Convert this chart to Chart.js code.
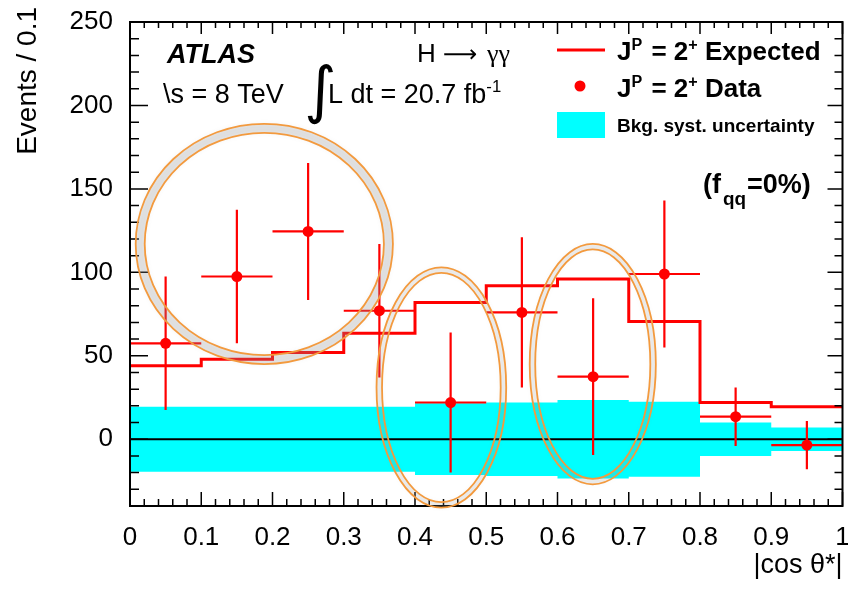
<!DOCTYPE html>
<html><head><meta charset="utf-8">
<script src="https://cdn.jsdelivr.net/npm/chart.js@4.4.1/dist/chart.umd.min.js"></script>
<style>html,body{margin:0;padding:0;background:#fff;}#wrap{width:848px;height:590px;}</style>
</head><body><div id="wrap"><canvas id="c" width="848" height="590"></canvas></div>
<script>
// ---- data ----
const binEdges = [0, 0.1, 0.2, 0.3, 0.4, 0.5, 0.6, 0.7, 0.8, 0.9, 1.0];
const binCenters = [0.05, 0.15, 0.25, 0.35, 0.45, 0.55, 0.65, 0.75, 0.85, 0.95];
const expected = [44, 48, 52, 63.5, 82, 92, 96, 70.5, 22, 19.5];
const observed = [57.5, 97.5, 124.5, 77, 22, 76, 37.5, 99, 13.5, -3.5];
const observedErr = [40, 40, 41, 40, 42, 45, 47, 44, 17.5, 14.5];
const bkgSyst = [19.5, 19.5, 19.5, 19.5, 21.5, 22, 23.5, 22.5, 10, 7];
const xTickValues = [0, 0.1, 0.2, 0.3, 0.4, 0.5, 0.6, 0.7, 0.8, 0.9, 1];
const yTickValues = [0, 50, 100, 150, 200, 250];
// highlighted regions (orange rings), in data units
const highlightX = [[0.008, 0.369], [0.346, 0.528], [0.561, 0.738]];
const highlightY = [[45, 189], [-41, 103], [-27, 117]];

const RED = '#ff0000', CYAN = '#00ffff';
const SANS = '"Liberation Sans", Arial, Helvetica, sans-serif';
const SERIF = '"Liberation Serif", "DejaVu Serif", serif';

function stepPoints(vals, sign) {
  return binEdges.map((x, i) => ({x: x, y: sign * vals[Math.min(i, vals.length - 1)]}));
}

function rich(ctx, x, y, parts, size, weight, style, family) {
  let cx = x;
  for (const p of parts) {
    let fs = size, dy = 0;
    if (p.sup) { fs = size * 0.62; dy = -size * 0.40; }
    if (p.sub) { fs = size * 0.7; dy = size * 0.45; }
    ctx.font = `${p.style || style} ${p.weight || weight} ${p.size || fs}px ${p.family || family}`;
    ctx.fillText(p.t, cx, y + dy + (p.dy || 0));
    cx += ctx.measureText(p.t).width + (p.kern || 0);
  }
  return cx;
}

const decorPlugin = {
  id: 'decor',
  afterDatasetDraw(chart, args) {
    if (args.index !== 1) return;
    // error bars for the data points
    const {ctx, scales: {x, y}} = chart;
    ctx.save();
    ctx.strokeStyle = RED; ctx.lineWidth = 2.2;
    for (let i = 0; i < binCenters.length; i++) {
      const px = x.getPixelForValue(binCenters[i]);
      const py = y.getPixelForValue(observed[i]);
      ctx.beginPath();
      ctx.moveTo(x.getPixelForValue(binEdges[i]), py);
      ctx.lineTo(x.getPixelForValue(binEdges[i + 1]), py);
      ctx.moveTo(px, y.getPixelForValue(observed[i] + observedErr[i]));
      ctx.lineTo(px, y.getPixelForValue(observed[i] - observedErr[i]));
      ctx.stroke();
    }
    ctx.restore();
  },
  afterDraw(chart) {
    const {ctx, chartArea: a, scales: {x, y}} = chart;
    ctx.save();
    // frame
    ctx.strokeStyle = '#000'; ctx.lineWidth = 2;
    ctx.strokeRect(a.left, a.top, a.right - a.left, a.bottom - a.top);
    // inward ticks, all four sides
    ctx.lineWidth = 1.5;
    ctx.beginPath();
    for (let i = 0; i <= 50; i++) {
      const v = i / 50, px = x.getPixelForValue(v), major = i % 5 === 0;
      ctx.moveTo(px, a.bottom); ctx.lineTo(px, a.bottom - (major ? 14 : 7));
      ctx.moveTo(px, a.top); ctx.lineTo(px, a.top + (major ? 12 : 6));
    }
    for (let v = -40; v <= 250; v += 10) {
      const py = y.getPixelForValue(v), major = v % 50 === 0;
      ctx.moveTo(a.left, py); ctx.lineTo(a.left + (major ? 18 : 9), py);
      ctx.moveTo(a.right, py); ctx.lineTo(a.right - (major ? 15 : 8), py);
    }
    ctx.stroke();

    // y title
    ctx.fillStyle = '#000';
    ctx.save();
    ctx.translate(28, 7); ctx.rotate(-Math.PI / 2);
    ctx.font = `28px ${SANS}`; ctx.textAlign = 'right'; ctx.textBaseline = 'middle';
    ctx.fillText('Events / 0.1', 0, 0);
    ctx.restore();

    ctx.textAlign = 'left'; ctx.textBaseline = 'alphabetic';
    // ATLAS label block
    ctx.font = `italic bold 27px ${SANS}`;
    ctx.fillText('ATLAS', 167, 63);
    ctx.font = `27px ${SANS}`;
    ctx.fillText('\\s = 8 TeV', 163, 103);
    ctx.font = `62px "DejaVu Sans", ${SERIF}`;
    ctx.fillText('\u222B', 304, 111);
    rich(ctx, 328, 103, [{t: 'L dt = 20.7 fb'}, {t: '-1', sup: true}], 27, 'normal', 'normal', SANS);
    rich(ctx, 417, 62, [{t: 'H '}, {t: '\u27F6', family: '"DejaVu Sans"', size: 24, kern: 3}, {t: ' \u03B3\u03B3', family: SERIF}], 26, 'normal', 'normal', SANS);

    // legend
    ctx.strokeStyle = RED; ctx.lineWidth = 3;
    ctx.beginPath(); ctx.moveTo(557, 50); ctx.lineTo(605, 50); ctx.stroke();
    ctx.fillStyle = RED;
    ctx.beginPath(); ctx.arc(580, 86, 5.5, 0, Math.PI * 2); ctx.fill();
    ctx.fillStyle = CYAN; ctx.fillRect(557, 112, 48, 26);
    ctx.fillStyle = '#000';
    rich(ctx, 617, 60, [{t: 'J'}, {t: 'P', sup: true, kern: 2}, {t: ' = 2'}, {t: '+', sup: true}, {t: ' Expected'}], 26, 'bold', 'normal', SANS);
    rich(ctx, 617, 97, [{t: 'J'}, {t: 'P', sup: true, kern: 2}, {t: ' = 2'}, {t: '+', sup: true}, {t: ' Data'}], 26, 'bold', 'normal', SANS);
    ctx.font = `bold 19px ${SANS}`;
    ctx.fillText('Bkg. syst. uncertainty', 617, 132);
    rich(ctx, 703, 193, [{t: '(f', kern: 2}, {t: 'qq', sub: true, kern: 1}, {t: '=0%)'}], 27, 'bold', 'normal', SANS);

    // orange highlight rings
    for (let k = 0; k < highlightX.length; k++) {
      const x0 = x.getPixelForValue(highlightX[k][0]), x1 = x.getPixelForValue(highlightX[k][1]);
      const y0 = y.getPixelForValue(highlightY[k][1]), y1 = y.getPixelForValue(highlightY[k][0]);
      const cx = (x0 + x1) / 2, cy = (y0 + y1) / 2, rx = (x1 - x0) / 2, ry = (y1 - y0) / 2;
      const gap = k === 0 ? 9 : 5.5;
      // grey band between rings
      ctx.save();
      ctx.beginPath();
      ctx.ellipse(cx, cy, rx, ry, 0, 0, Math.PI * 2);
      ctx.ellipse(cx, cy, rx - gap, ry - gap, 0, 0, Math.PI * 2, true);
      ctx.fillStyle = k === 0 ? 'rgba(150,150,150,0.22)' : 'rgba(150,150,150,0.15)';
      ctx.shadowColor = 'rgba(120,120,120,0.45)'; ctx.shadowBlur = 5;
      ctx.fill();
      ctx.restore();
      ctx.strokeStyle = '#f39a3e'; ctx.lineWidth = 1.8;
      ctx.beginPath(); ctx.ellipse(cx, cy, rx, ry, 0, 0, Math.PI * 2); ctx.stroke();
      ctx.beginPath(); ctx.ellipse(cx, cy, rx - gap, ry - gap, 0, 0, Math.PI * 2); ctx.stroke();
    }
    ctx.restore();
  }
};

new Chart(document.getElementById('c'), {
  type: 'scatter',
  data: {
    datasets: [
      {label: 'J^P = 2^+ Data', data: binCenters.map((x, i) => ({x: x, y: observed[i]})),
        pointRadius: 5.5, pointHoverRadius: 5.5, backgroundColor: RED, borderWidth: 0, showLine: false},
      {label: 'J^P = 2^+ Expected', type: 'line', data: stepPoints(expected, 1), stepped: 'before',
        borderColor: RED, borderWidth: 3, pointRadius: 0, fill: false},
      {label: 'zero', type: 'line', data: [{x: 0, y: 0}, {x: 1, y: 0}], borderColor: '#000', borderWidth: 2,
        pointRadius: 0, fill: false},
      {label: 'Bkg. syst. uncertainty', type: 'line', data: stepPoints(bkgSyst, 1), stepped: 'before',
        borderColor: 'rgba(0,0,0,0)', borderWidth: 0, pointRadius: 0, backgroundColor: CYAN, fill: '+1'},
      {label: 'bkg low', type: 'line', data: stepPoints(bkgSyst, -1), stepped: 'before',
        borderColor: 'rgba(0,0,0,0)', borderWidth: 0, pointRadius: 0, fill: false}
    ]
  },
  options: {
    responsive: false, animation: false, devicePixelRatio: 1,
    layout: {padding: {top: 22, right: 5, bottom: 4, left: 0}},
    plugins: {legend: {display: false}, tooltip: {enabled: false}},
    scales: {
      x: {type: 'linear', min: 0, max: 1, grid: {display: false}, border: {display: false},
        afterBuildTicks: s => { s.ticks = xTickValues.map(v => ({value: v})); },
        afterFit: s => { s.height = 80; s.paddingLeft = 0; s.paddingRight = 0; },
        ticks: {font: {size: 26, family: SANS}, color: '#000', padding: 8, maxRotation: 0, autoSkip: false,
          callback: v => String(+Number(v).toFixed(1))},
        title: {display: true, text: '|cos \u03B8*|', align: 'end', color: '#000', font: {size: 27, family: SANS}}},
      y: {type: 'linear', min: -40, max: 250, grid: {display: false}, border: {display: false},
        afterBuildTicks: s => { s.ticks = yTickValues.map(v => ({value: v})); },
        afterFit: s => { s.width = 130; s.paddingTop = 0; s.paddingBottom = 0; },
        ticks: {font: {size: 26, family: SANS}, color: '#000', padding: 9, autoSkip: false,
          callback: v => String(v)}}
    }
  },
  plugins: [decorPlugin]
});
</script></body></html>
